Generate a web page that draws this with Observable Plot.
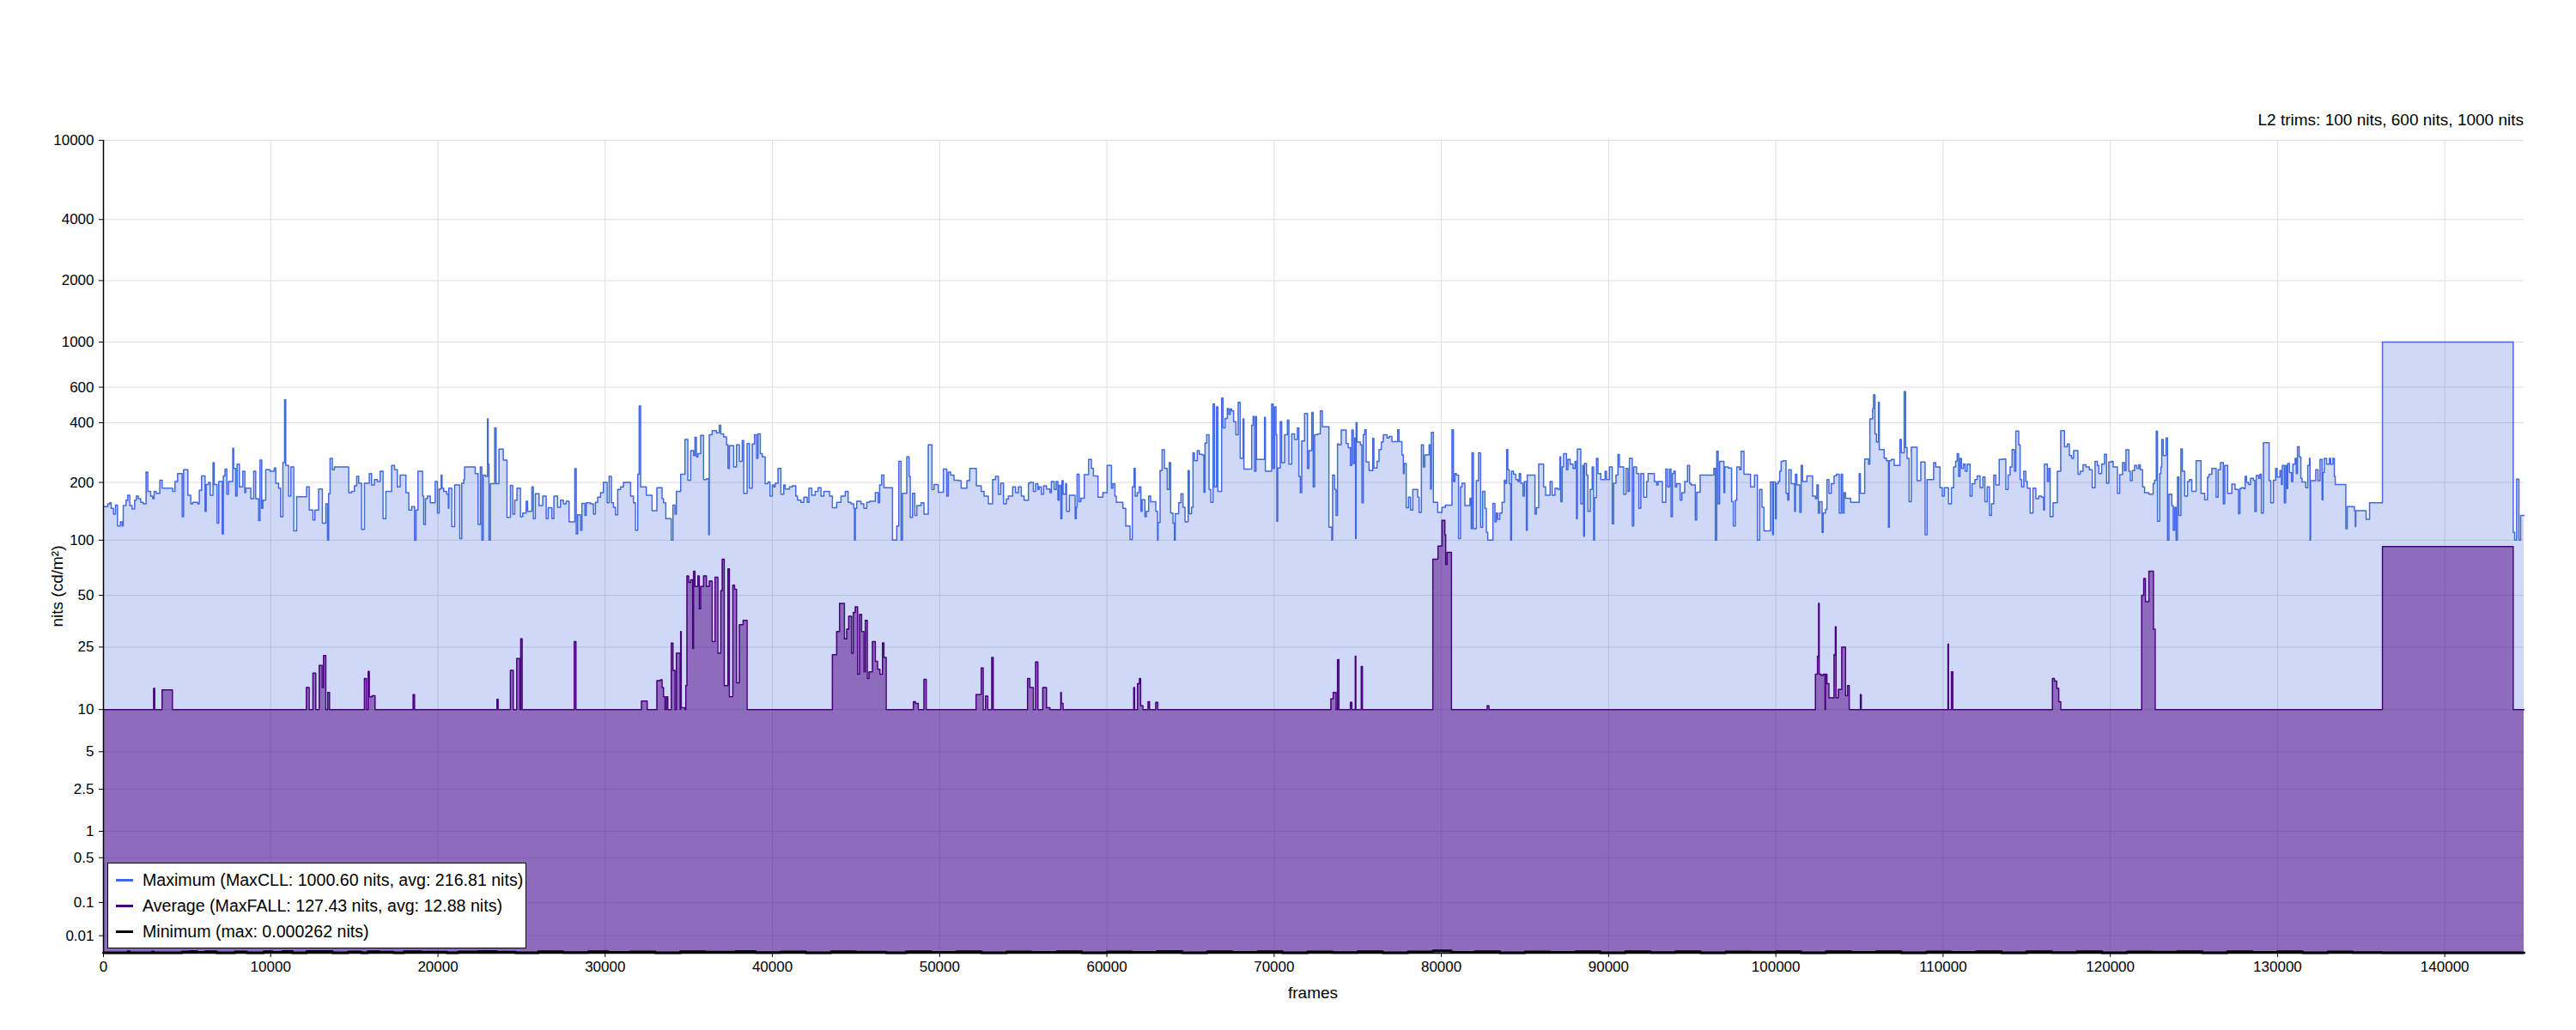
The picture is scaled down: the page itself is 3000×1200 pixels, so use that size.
<!DOCTYPE html>
<html>
<head>
<meta charset="utf-8">
<script src="https://cdn.jsdelivr.net/npm/d3@7"></script>
<script src="https://cdn.jsdelivr.net/npm/@observablehq/plot@0.6"></script>
<style>
  html, body { margin: 0; padding: 0; background: #fff; }
  #wrap { position: relative; width: 3000px; height: 1200px; font-family: "Liberation Sans", Arial, sans-serif; color: #000; }
  #wrap svg { position: absolute; left: 0; top: 0; }
  .lbl { position: absolute; white-space: nowrap; font-size: 19px; line-height: 22px; }
  #legend { position: absolute; left: 125px; top: 1005px; width: 488px; height: 100px; background: #fff; border: 1px solid #000; box-sizing: border-box; }
  .row { position: absolute; left: 9px; height: 22px; display: flex; align-items: center; font-size: 19.6px; white-space: nowrap; }
  .sw { display: inline-block; width: 20px; height: 3px; margin-right: 11px; }
</style>
</head>
<body>
<div id="wrap"></div>
<script>
// ---- data ----
const totalFrames = 144740;
const xTicks = [0, 10000, 20000, 30000, 40000, 50000, 60000, 70000, 80000, 90000, 100000, 110000, 120000, 130000, 140000];
const yTicks = [0.01, 0.1, 0.5, 1, 2.5, 5, 10, 25, 50, 100, 200, 400, 600, 1000, 2000, 4000, 10000];
const yTickLabels = ["0.01", "0.1", "0.5", "1", "2.5", "5", "10", "25", "50", "100", "200", "400", "600", "1000", "2000", "4000", "10000"];
const titleText = "L2 trims: 100 nits, 600 nits, 1000 nits";
const legendLabels = [
  "Maximum (MaxCLL: 1000.60 nits, avg: 216.81 nits)",
  "Average (MaxFALL: 127.43 nits, avg: 12.88 nits)",
  "Minimum (max: 0.000262 nits)"
];
const seriesColors = ["#4169E1", "#4B0082", "#000000"];

// frame, nits (maximum per frame)
const maxSeries = [
[0,150],[257,155],[377,157],[462,147],[599,137],[719,153],[839,119],[1010,125],[1112,119],[1181,152],[1352,162],[1455,172],[1574,152],[1711,146],[1865,162],[1968,170],[2088,165],[2225,158],[2379,155],[2550,226],[2652,180],[2823,170],[2943,165],[3029,180],[3149,176],[3371,205],[3508,187],[4141,180],[4278,202],[4432,222],[4706,133],[4791,232],[5048,172],[5219,155],[5339,158],[5630,155],[5732,182],[5869,216],[6074,142],[6143,195],[6280,200],[6382,172],[6553,252],[6622,195],[6793,123],[6896,202],[7101,108],[7169,216],[7272,234],[7375,174],[7477,202],[7734,298],[7785,236],[7905,170],[7991,248],[8128,190],[8333,228],[8453,177],[8504,187],[8812,165],[8983,228],[9103,165],[9274,127],[9360,260],[9462,147],[9531,162],[9702,232],[9958,228],[10215,237],[10301,198],[10472,187],[10591,133],[10728,252],[10831,520],[10899,244],[11071,170],[11208,240],[11379,112],[11550,169],[12149,190],[12303,144],[12525,128],[12645,144],[12867,185],[13089,123],[13295,155],[13397,100],[13466,175],[13551,265],[13688,232],[13808,240],[14664,177],[14835,180],[15006,192],[15143,215],[15263,198],[15434,114],[15605,198],[15896,222],[16033,194],[16204,207],[16375,202],[16546,228],[16717,130],[16888,180],[17230,244],[17401,232],[17572,190],[17743,218],[18086,177],[18257,144],
[18431,150],[18602,100],[18688,144],[18807,228],[19081,170],[19150,121],[19252,165],[19372,170],[19543,157],[19834,202],[19971,139],[20074,185],[20193,218],[20245,187],[20347,180],[20518,174],[20621,147],[20655,187],[20826,118],[20998,194],[21305,102],[21425,198],[21545,207],[21596,240],[22229,222],[22400,121],[22537,240],[22623,100],[22709,218],[22845,215],[22965,418],[23000,248],[23051,100],[23136,197],[23393,377],[23478,197],[23650,295],[23906,260],[24129,132],[24334,193],[24471,137],[24591,162],[24728,187],[24933,133],[25070,139],[25275,160],[25361,142],[25617,190],[25703,130],[25823,175],[26045,152],[26267,170],[26473,130],[26593,148],[26815,130],[26935,170],[27157,149],[27328,162],[27499,155],[27670,160],[27842,125],[28184,235],[28269,108],[28355,136],[28526,113],[28611,156],[28783,135],[28868,157],[29125,155],[29296,137],[29416,158],[29553,168],[29724,177],[29895,200],[30117,157],[30237,215],[30374,157],[30494,149],[30613,136],[30750,184],[30922,190],[31093,200],[31520,170],[31691,157],[31811,113],[31948,220],[32034,485],[32119,190],[32461,172],[32804,143],[33094,188],[33402,165],[33488,157],[33625,130],[33950,100],[34053,153],[34172,137],[34258,180],[34514,220],[34771,330],[34942,205],[35113,290],[35284,274],[35370,338],[35455,270],[35541,280],[35712,346],[35883,207],[36054,209],[36191,107],[36225,348],[36397,365],[36653,356],[36824,388],
[36914,352],[37085,340],[37256,310],[37342,236],[37427,307],[37684,240],[37855,310],[38026,256],[38197,326],[38283,176],[38488,315],[38625,187],[38796,313],[38933,348],[39053,265],[39138,352],[39275,280],[39395,270],[39566,197],[39737,201],[39857,170],[39994,194],[40080,190],[40165,198],[40336,236],[40507,174],[40678,194],[40764,185],[41020,190],[41192,192],[41397,170],[41500,162],[41705,158],[41876,168],[42081,158],[42184,187],[42355,172],[42560,180],[42731,188],[42903,170],[43074,180],[43416,170],[43585,148],[43843,158],[44100,170],[44357,180],[44528,158],[44699,155],[44870,147],[44904,100],[44956,147],[45041,160],[45298,155],[45469,147],[45640,158],[45811,160],[46153,177],[46325,157],[46410,194],[46530,218],[46667,188],[47180,100],[47437,119],[47557,256],[47694,100],[47779,176],[48036,270],[48173,215],[48242,132],[48378,176],[48515,135],[48635,152],[48891,157],[49062,137],[49319,310],[49541,184],[49661,195],[49918,178],[50222,234],[50429,170],[50517,226],[50653,218],[50859,205],[51116,204],[51288,187],[51629,204],[51800,236],[52194,192],[52485,180],[52656,170],[52913,155],[53168,207],[53340,215],[53511,174],[53648,198],[53819,155],[53990,164],[54110,170],[54367,190],[54538,177],[54709,190],[54881,170],[55052,162],[55308,198],
[55396,200],[55601,180],[55738,197],[55875,184],[55944,190],[56080,174],[56217,192],[56388,185],[56594,177],[56679,202],[56850,184],[56970,202],[57073,162],[57141,193],[57244,130],[57312,204],[57381,174],[57535,197],[57586,142],[57757,172],[58099,130],[58168,149],[58219,220],[58339,159],[58442,166],[58647,219],[58904,262],[59075,236],[59194,216],[59468,168],[59759,177],[60016,244],[60273,187],[60358,197],[60478,170],[60563,158],[60957,147],[61128,119],[61384,101],[61521,190],[61624,236],[61693,170],[61813,177],[61932,190],[62035,142],[62103,163],[62274,133],[62360,142],[62497,170],[62617,159],[62924,142],[63027,100],[63061,124],[63181,230],[63301,293],[63438,236],[63609,184],[63729,252],[63815,139],[63951,123],[64037,100],[64088,138],[64293,157],[64430,175],[64550,149],[64670,125],[64858,230],[64926,138],[65063,149],[65149,283],[65234,258],[65405,290],[65525,278],[65696,276],[65799,178],[65868,316],[65970,348],[66107,184],[66210,158],[66347,495],[66432,190],[66552,480],[66637,180],[66860,530],[66945,377],[67065,420],[67202,470],[67287,440],[67373,468],[67458,458],[67578,405],[67715,348],[67852,505],[67972,265],[68143,418],[68195,234],[68657,388],[68742,430],[68827,228],[68913,430],[68947,262],[69426,425],[69477,228],[69854,495],[69940,236],[70025,480],[70111,348],[70162,126],[70214,237],[70368,405],[70453,252],[70625,348],[70796,412],[70881,248],[71052,352],[71223,330],[71394,377],[71480,215],[71565,177],[71651,324],[71822,445],[71993,236],[72079,290],[72250,450],[72335,190],[72420,348],[72592,352],[72763,458],[72883,382],[73276,117],[73447,100],[73498,218],[73618,184],[73704,135],[73789,313],
[73878,310],[74015,368],[74306,315],[74426,300],[74562,244],[74648,368],[74734,250],[74819,336],[74870,102],[74905,401],[74956,320],[75161,310],[75247,157],[75332,348],[75418,369],[75503,254],[75675,230],[75897,334],[75965,237],[76154,256],[76273,294],[76410,320],[76530,348],[76752,336],[76872,342],[77043,322],[77386,369],[77471,322],[77642,276],[77728,222],[77779,250],[77899,148],[78036,168],[78156,144],[78292,184],[78583,168],[78669,140],[78806,310],[78925,240],[79011,276],[79268,310],[79353,185],[79404,358],[79524,158],[79781,140],[80038,149],[80243,153],[80637,369],[80722,202],[80808,222],[80894,218],[81029,102],[81149,190],[81235,198],[81406,152],[81714,166],[81783,115],[81834,283],[81919,115],[82090,204],[82228,283],[82348,117],[82467,180],[82604,147],[82690,110],[82775,100],[83083,156],[83203,125],[83289,139],[83374,129],[83494,139],[83631,158],[83768,205],[83836,198],[83905,294],[83973,232],[84059,197],[84144,100],[84195,228],[84315,220],[84452,207],[84572,202],[84657,222],[84743,198],[84880,170],[84965,202],[85085,113],[85136,218],[85598,137],[85684,148],[85821,248],[86112,190],[86232,172],[86505,202],[86625,172],[86796,187],[86967,184],[87087,270],[87138,159],[87224,240],[87309,280],[87480,232],[87566,262],[87703,248],[87874,236],[87994,256],[88079,130],[88130,295],[88336,155],[88456,244],[88507,105],[88558,250],[88678,218],[88763,142],[88900,184],[89020,240],[89106,100],[89157,167],[89277,265],[89363,222],[89534,207],[89791,228],[89877,207],[90048,240],[90219,122],[90304,198],[90441,218],[90561,277],[90646,240],[90903,174],[91040,236],[91160,180],[91245,265],[91416,119],[91502,240],[91673,222],[91810,147],[91930,222],[92101,168],[92272,202],
[92361,222],[92737,202],[92874,194],[92960,202],[93217,158],[93422,234],[93524,190],[93644,234],[93730,133],[93815,222],[93901,228],[93986,190],[94072,197],[94277,162],[94380,177],[94551,202],[94722,244],[94842,198],[94927,194],[95184,128],[95270,178],[95475,218],[96296,236],[96382,100],[96467,288],[96553,155],[96639,256],[96895,177],[96946,240],[97152,237],[97357,159],[97460,119],[97580,162],[97665,240],[97836,232],[97922,288],[98093,220],[98213,220],[98487,190],[98726,218],[98897,100],[99034,184],[99171,149],[99291,112],[99684,201],[99804,107],[99855,201],[99975,130],[100026,197],[100146,202],[100232,228],[100317,256],[100437,258],[100608,176],[100711,162],[100779,232],[100916,197],[101122,142],[101173,220],[101258,194],[101429,140],[101515,244],[101600,202],[101857,216],[102199,170],[102370,165],[102456,194],[102541,139],[102627,159],[102764,110],[102833,139],[102969,145],[103055,207],[103174,176],[103311,197],[103482,216],[103619,220],[103790,139],[103909,220],[103995,139],[104081,177],[104167,166],[104475,158],[104988,222],[105057,176],[105314,263],[105536,248],[105621,418],[105792,470],[105843,550],[105929,352],[106015,320],[106135,505],[106186,294],[106477,266],[106614,258],[106733,117],[106784,258],[106904,262],[107075,244],[107246,244],[107417,330],[107503,283],[107674,570],[107759,300],[107845,265],[107965,159],[108102,302],[108444,204],[108667,254],[108924,107],[109044,207],[109215,207],[109438,252],[109558,240],[109815,188],[109951,170],[110071,188],[110327,155],[110498,188],[110635,240],[110754,256],
[110843,280],[110929,215],[111014,265],[111100,236],[111219,248],[111322,228],[111442,248],[111613,170],[111733,197],[111904,207],[112041,216],[112212,188],[112383,213],[112503,159],[112640,190],[112777,135],[112896,155],[113033,218],[113153,194],[113358,262],[113581,263],[113751,184],[113888,218],[114008,240],[114128,294],[114265,228],[114350,363],[114522,310],[114607,207],[114693,190],[114830,228],[114949,202],[115035,187],[115206,139],[115377,187],[115549,165],[115720,170],[115891,168],[116010,144],[116062,248],[116233,202],[116319,236],[116404,133],[116575,157],[116832,228],[117037,365],[117260,303],[117430,313],[117550,274],[117687,265],[117807,290],[118063,220],[118200,228],[118371,246],[118542,240],[118747,232],[118918,188],[119090,256],[119227,244],[119312,222],[119483,248],[119654,278],[119775,198],[119911,254],[120083,256],[120168,240],[120425,176],[120561,219],[120732,252],[120852,230],[120938,293],[121109,228],[121195,204],[121314,230],[121451,244],[121588,236],[121708,246],[121793,232],[121930,190],[122050,177],[122306,174],[122563,197],[122649,205],[122752,363],[122820,126],[122957,222],[123025,240],[123076,330],[123162,274],[123333,336],[123419,100],[123505,174],[123676,152],[123761,113],[123847,149],[123932,100],[124018,213],[124104,135],[124223,296],[124309,228],[124446,170],[124617,202],[124737,207],[124873,180],[125130,258],[125421,176],[125643,163],[125815,213],[125900,220],[126071,236],[126328,168],[126447,232],[126584,252],[126755,155],[126841,244],[127012,176],[127269,196],
[127460,184],[127665,138],[127751,186],[127836,188],[127973,186],[128059,215],[128144,200],[128264,195],[128384,210],[128555,205],[128640,142],[128726,217],[128863,210],[128948,220],[129034,139],[129154,318],[129496,204],[129599,157],[129752,205],[129890,236],[129975,213],[130146,230],[130232,195],[130283,244],[130403,157],[130488,244],[130540,186],[130608,250],[130711,225],[130831,202],[130916,248],[131053,265],[131121,222],[131190,303],[131293,270],[131395,210],[131464,201],[131686,188],[131806,244],[131908,265],[131943,100],[131977,204],[132285,232],[132422,204],[132541,262],[132661,163],[132713,225],[132798,265],[132935,248],[133106,265],[133175,248],[133312,265],[133397,215],[133449,195],[134082,115],[134167,150],[134595,143],[134647,118],[134681,143],[135297,129],[135502,157],[136272,1000.6],[144092,110],[144177,100],[144296,208],[144433,100],[144536,135],[144740,135]
];

// frame, nits (frame average)
const avgSeries = [
[0,10],[3000,13.8],[3063,10],[3508,13.5],[4124,10],[12132,14],[12303,10],[12525,17.3],[12696,10],[12901,19.3],[13072,14],[13158,22.2],[13295,10],[13414,13],[13517,10],[15605,16],[15725,10],[15828,17.7],[15896,12.2],[16067,12.4],[16238,10],
[18517,12.6],[18602,10],[23530,11.7],[23598,10],[24334,18],[24505,10],[24711,21.3],[24899,10],[24950,28],[25035,10],[28150,27],[28252,10],[32170,11.4],[32513,10],
[33094,15.5],[33317,15.7],[33402,14],[33488,12.2],[33574,10],[33659,12.2],[33745,10],[33950,26.4],[34053,18],[34172,10],[34258,23],[34480,10],[34514,31],[34548,10.3],[34771,10],
[34822,14.4],[34891,64],[34994,59],[35113,61],[35233,24.5],[35284,68],[35370,56],[35541,64],[35627,42],[35712,56],[35883,64],[36054,56],[36225,60],[36397,27],[36568,63],[36739,23],[36914,53],[37000,79],[37119,14.4],[37342,70],[37427,12.2],[37633,57],[37736,54],[37855,15],[38026,34],[38248,36],[38488,10],
[43587,22.5],[43843,31],[44014,45],[44305,28],[44442,32],[44562,38],[44733,23],[44836,40],[44956,43],[45093,17],[45212,39],[45332,31],[45469,17.6],[45555,36],[45674,16],[45777,17.6],[45982,27],[46153,20.5],[46290,18.3],[46428,17],[46581,26.5],[46667,21.6],[46804,10],
[48429,11.3],[48549,11],[48720,10],[49062,15.8],[49199,10],[52176,12.6],[52485,18.6],[52605,10],[52742,12.3],[52879,10],[53117,21.6],[53203,10],
[55257,16],[55393,14],[55601,10],[55738,20.3],[55875,10],[56166,14],[56388,10.3],[56594,10],[57244,13],[57278,11],[57381,10],
[61607,14],[61658,10],[61830,14.8],[61949,16],[62018,10.6],[62154,10],[62463,11.3],[62549,10],[62924,11.2],[63044,10],
[73396,11.8],[73533,13],[73704,10],[73789,21],[73875,10],[74562,11.2],[74648,10],[74853,22],[74888,10],[75212,19],[75281,10],
[79490,79],[79798,93],[80038,127.4],[80209,107],[80260,74],[80346,86],[80603,10],[82741,10.6],[82844,10],
[102370,17],[102490,22],[102559,45],[102593,17],[102712,16.7],[102833,17],[102935,10],[102969,17],[103055,14.8],[103174,12],[103482,22.5],[103560,33],[103602,12],[103739,13.6],[103944,25],[104167,12.4],[104287,14.4],[104390,10],
[105057,12.6],[105108,10],[110293,26],[110327,10],[110498,17.6],[110584,10],
[116541,16],[116660,15.4],[116797,13.8],[116917,11.3],[117037,10],
[121879,50],[121998,62],[122101,46],[122306,68],[122580,32],[122683,10],
[136272,92.4],[144092,10],[144740,10]
];

// frame, nits (frame minimum)
const minSeries = [
[0,0.00002],[1455,0.00012],[1560,0.00002],[2910,0.0001],[3000,0.00002],[4700,0.00008],[5200,0.00015],[5600,0.00005],[6100,0.00012],[6760,0.00002],[7860,0.0001],[8570,0.00002],[9580,0.00012],[10100,0.00005],[10700,0.00014],[11300,0.00002],[12150,0.00015],[13690,0.00002],[14630,0.0001],[15400,0.00002],[15810,0.00012],[16500,0.00006],[17350,0.00002],[17970,0.00013],[19000,0.00006],[20540,0.00002],[21200,0.0001],[22400,0.00014],[23500,0.00007],[24640,0.00002],
[26000,0.00011],[27500,0.00003],[29000,0.00013],[30200,0.00004],[31500,0.0001],[33000,0.00002],[34500,0.00012],[36000,0.00006],[37800,0.00015],[39000,0.00003],[40500,0.0001],[42000,0.00002],[43500,0.00012],[45000,0.00007],[46800,0.00002],[48000,0.00011],[49500,0.00004],[51000,0.00013],[52500,0.00002],[54000,0.0001],[55500,0.00005],[57000,0.00012],[58500,0.00002],[60000,0.0001],[61500,0.00004],[63000,0.00014],[64500,0.00002],[66000,0.00011],[67500,0.00005],[69000,0.00013],[70500,0.00002],[72000,0.0001],[73500,0.00003],[75000,0.00012],[76500,0.00002],[78000,0.0001],[79500,0.000262],[80600,0.00004],[82000,0.00012],[83500,0.00002],[85000,0.0001],[86500,0.00005],[88000,0.00013],[89500,0.00002],[91000,0.00011],[92500,0.00003],[94000,0.00012],[95500,0.00002],[97000,0.0001],[98500,0.00006],[100000,0.00013],[101500,0.00002],[103000,0.00011],[104500,0.00004],[106000,0.00012],[107500,0.00002],[109000,0.0001],[110500,0.00005],[112000,0.00013],[113500,0.00002],[115000,0.00011],[116500,0.00003],[118000,0.00012],[119500,0.00002],[121000,0.0001],[122500,0.00006],[124000,0.00013],[125500,0.00002],[127000,0.00011],[128500,0.00004],[130000,0.00012],[131500,0.00002],[133000,0.0001],[134500,0.00003],[136272,0.00002],[144740,0.00002]
];

// ---- PQ (SMPTE ST 2084) encoding used for the vertical scale ----
function pq(nits) {
  const m1 = 2610 / 16384, m2 = 2523 / 4096 * 128;
  const c1 = 3424 / 4096, c2 = 2413 / 4096 * 32, c3 = 2392 / 4096 * 32;
  const y = Math.pow(Math.max(nits, 0) / 10000, m1);
  return Math.pow((c1 + c2 * y) / (1 + c3 * y), m2);
}
const yTickPQ = yTicks.map(pq);
function fmtY(v) {
  let best = 0, bd = Infinity;
  yTickPQ.forEach((p, i) => { const d = Math.abs(p - v); if (d < bd) { bd = d; best = i; } });
  return yTickLabels[best];
}

const X = d => d[0];
const Y = d => pq(d[1]);

const chart = Plot.plot({
  width: 3000,
  height: 1200,
  marginLeft: 120,
  marginRight: 61,
  marginTop: 163,
  marginBottom: 90,
  style: { fontFamily: "Liberation Sans, Arial, sans-serif", fontSize: "17px", color: "#000", background: "#fff" },
  x: { domain: [0, totalFrames] },
  y: { domain: [0, 1] },
  marks: [
    Plot.gridX(xTicks, { stroke: "#dedede", strokeOpacity: 1, strokeWidth: 1 }),
    Plot.gridY(yTickPQ, { stroke: "#dedede", strokeOpacity: 1, strokeWidth: 1 }),
    Plot.areaY(maxSeries, { x: X, y: Y, curve: "step-after", fill: seriesColors[0], fillOpacity: 0.25 }),
    Plot.areaY(avgSeries, { x: X, y: Y, curve: "step-after", fill: seriesColors[1], fillOpacity: 0.5 }),
    Plot.lineY(maxSeries, { x: X, y: Y, curve: "step-after", stroke: seriesColors[0], strokeWidth: 1.5 }),
    Plot.lineY(avgSeries, { x: X, y: Y, curve: "step-after", stroke: seriesColors[1], strokeWidth: 1.5 }),
    Plot.lineY(minSeries, { x: X, y: Y, curve: "step-after", stroke: seriesColors[2], strokeWidth: 3 }),
    Plot.axisX({ ticks: xTicks, tickFormat: d => String(d), tickSize: 5, tickPadding: 4, fontSize: 17, label: null }),
    Plot.axisY({ ticks: yTickPQ, tickFormat: fmtY, tickSize: 5, tickPadding: 6, fontSize: 17, label: null }),
    Plot.ruleX([0], { stroke: "#000", strokeWidth: 1.5 }),
    Plot.ruleY([0], { stroke: "#000", strokeWidth: 1.5 })
  ]
});

const wrap = document.getElementById("wrap");
wrap.appendChild(chart);

// texts
function addLabel(text, css) {
  const d = document.createElement("div");
  d.className = "lbl";
  d.textContent = text;
  Object.assign(d.style, css);
  wrap.appendChild(d);
  return d;
}
addLabel(titleText, { right: "61px", top: "129px" });
addLabel("frames", { left: "1529px", top: "1157px", transform: "translate(-50%, -50%)" });
addLabel("nits (cd/m²)", { left: "67px", top: "683px", transform: "translate(-50%, -50%) rotate(-90deg)" });

// legend
const lg = document.createElement("div");
lg.id = "legend";
legendLabels.forEach((t, i) => {
  const r = document.createElement("div");
  r.className = "row";
  r.style.top = (8 + i * 30) + "px";
  const sw = document.createElement("span");
  sw.className = "sw";
  sw.style.background = seriesColors[i];
  const tx = document.createElement("span");
  tx.textContent = t;
  r.appendChild(sw);
  r.appendChild(tx);
  lg.appendChild(r);
});
wrap.appendChild(lg);
</script>
</body>
</html>
